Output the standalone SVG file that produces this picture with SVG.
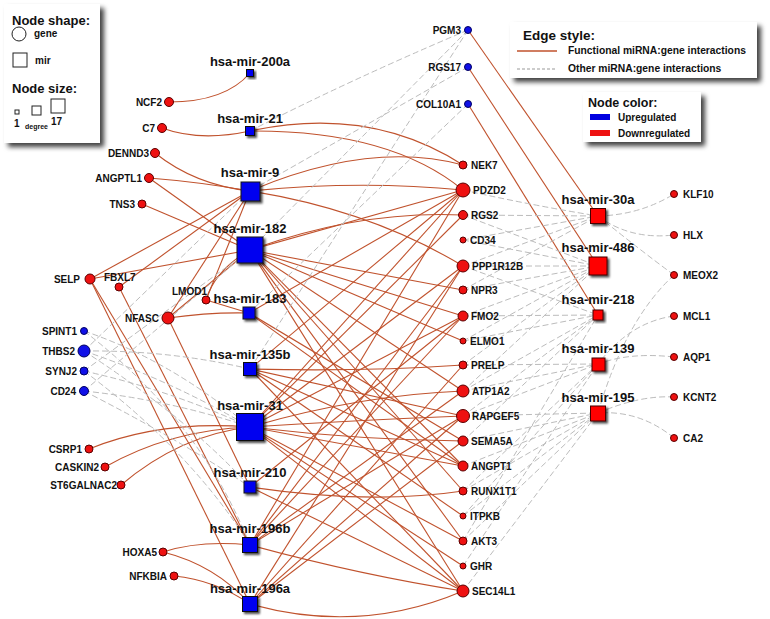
<svg xmlns="http://www.w3.org/2000/svg" width="770" height="619" viewBox="0 0 770 619">
<defs>
<filter id="bs" x="-10%" y="-10%" width="130%" height="130%"><feDropShadow dx="4" dy="4" stdDeviation="2.5" flood-color="#000" flood-opacity="0.75"/></filter>
<filter id="ss" x="-30%" y="-30%" width="170%" height="170%"><feDropShadow dx="2" dy="2" stdDeviation="0.8" flood-color="#000" flood-opacity="0.7"/></filter>
<style>
text{font-family:"Liberation Sans",Arial,sans-serif;font-weight:bold;fill:#111}
.gl{font-size:10px}
.ml{font-size:13px;text-anchor:middle}
.e{text-anchor:end}
.f{fill:none;stroke:#c0522d;stroke-width:1.1}
.o{fill:none;stroke:#bcbcbc;stroke-width:1;stroke-dasharray:6 3}
.rg{fill:#ee1111;stroke:#5a0000;stroke-width:1}
.bg{fill:#1010e8;stroke:#000060;stroke-width:1}
.bm{fill:#0000f0;stroke:#111;stroke-width:1;filter:url(#ss)}
.rm{fill:#ff0000;stroke:#400;stroke-width:1;filter:url(#ss)}
.lb{fill:#fff;filter:url(#bs)}
</style>
</defs>
<rect width="770" height="619" fill="#fff"/>

<g id="connectors">
<!-- functional, left -->
<path class="f" d="M169,102 Q225,102 250,73"/>
<path class="f" d="M162,128 Q200,142 250,131"/>
<path class="f" d="M155,153 Q195,185 250,191"/>
<path class="f" d="M149,178 Q200,182 250,191"/>
<path class="f" d="M149,178 L250,250"/>
<path class="f" d="M142,204 L250,250"/>
<path class="f" d="M90,279 L250,191"/>
<path class="f" d="M90,279 L250,250"/>
<path class="f" d="M119,287 L250,191"/>
<path class="f" d="M168,318 L250,191"/>
<path class="f" d="M168,318 L250,250"/>
<path class="f" d="M168,318 Q210,312 249,313"/>
<path class="f" d="M206,300 L250,191"/>
<path class="f" d="M206,300 Q215,270 250,250"/>
<path class="f" d="M206,300 L249,313"/>
<path class="f" d="M90,279 L250,545"/>
<path class="f" d="M90,279 L250,604"/>
<path class="f" d="M119,287 L250,545"/>
<path class="f" d="M168,318 L250,487"/>
<path class="f" d="M89,449 Q160,420 250,427"/>
<path class="f" d="M105,467 Q170,430 250,427"/>
<path class="f" d="M121,485 Q180,435 250,427"/>
<path class="f" d="M163,552 Q200,540 250,545"/>
<path class="f" d="M163,552 Q215,565 250,604"/>
<path class="f" d="M174,576 Q215,580 250,604"/>
<!-- functional, middle -->
<path class="f" d="M250,131 Q370,105 463,165"/>
<path class="f" d="M250,131 Q390,130 463,190"/>
<path class="f" d="M250,191 Q370,140 463,165"/>
<path class="f" d="M250,191 Q360,180 463,190"/>
<path class="f" d="M250,191 Q370,210 463,266"/>
<path class="f" d="M250,250 Q360,210 463,215"/>
<path class="f" d="M250,250 L463,190"/>
<path class="f" d="M250,250 L463,290"/>
<path class="f" d="M250,250 L463,316"/>
<path class="f" d="M250,250 L463,341"/>
<path class="f" d="M250,250 L463,391"/>
<path class="f" d="M250,250 L463,466"/>
<path class="f" d="M250,250 L463,491"/>
<path class="f" d="M250,250 L463,541"/>
<path class="f" d="M250,250 L463,591"/>
<path class="f" d="M249,313 L463,190"/>
<path class="f" d="M249,313 L463,441"/>
<path class="f" d="M249,313 L463,466"/>
<path class="f" d="M250,369 Q360,372 463,365"/>
<path class="f" d="M250,369 L463,416"/>
<path class="f" d="M250,369 L463,466"/>
<path class="f" d="M250,369 L463,516"/>
<path class="f" d="M250,369 L463,190"/>
<path class="f" d="M250,369 L463,591"/>
<path class="f" d="M250,427 L463,190"/>
<path class="f" d="M250,427 L463,215"/>
<path class="f" d="M250,427 L463,266"/>
<path class="f" d="M250,427 L463,316"/>
<path class="f" d="M250,427 Q360,395 463,391"/>
<path class="f" d="M250,427 Q360,420 463,416"/>
<path class="f" d="M250,427 Q360,440 463,441"/>
<path class="f" d="M250,427 L463,466"/>
<path class="f" d="M250,427 L463,541"/>
<path class="f" d="M250,427 L463,566"/>
<path class="f" d="M250,427 L463,591"/>
<path class="f" d="M250,487 Q370,505 463,491"/>
<path class="f" d="M250,487 L463,591"/>
<path class="f" d="M250,487 L463,316"/>
<path class="f" d="M250,545 L463,190"/>
<path class="f" d="M250,545 L463,266"/>
<path class="f" d="M250,545 L463,316"/>
<path class="f" d="M250,545 L463,391"/>
<path class="f" d="M250,545 L463,416"/>
<path class="f" d="M250,545 Q360,575 463,591"/>
<path class="f" d="M250,604 L463,266"/>
<path class="f" d="M250,604 L463,365"/>
<path class="f" d="M250,604 L463,416"/>
<path class="f" d="M250,604 L463,441"/>
<path class="f" d="M250,604 Q360,635 463,591"/>
<!-- functional, right -->
<path class="f" d="M468,30 L598,216"/>
<path class="f" d="M468,67 L598,266"/>
<path class="f" d="M468,104 L598,315"/>
<!-- other, left -->
<path class="o" d="M84,331 Q170,360 250,427"/>
<path class="o" d="M84,331 Q200,420 250,545"/>
<path class="o" d="M84,351 Q170,350 250,369"/>
<path class="o" d="M84,351 Q170,380 250,427"/>
<path class="o" d="M84,351 Q190,420 250,487"/>
<path class="o" d="M84,371 Q170,390 250,427"/>
<path class="o" d="M84,371 Q190,450 250,545"/>
<path class="o" d="M84,391 Q170,400 250,427"/>
<path class="o" d="M84,391 Q180,440 250,487"/>
<path class="o" d="M84,351 L250,191"/>
<path class="o" d="M84,371 L250,250"/>
<path class="o" d="M84,391 L250,250"/>
<!-- other, top -->
<path class="o" d="M468,30 Q350,80 250,131"/>
<path class="o" d="M468,30 L250,250"/>
<path class="o" d="M468,30 L250,369"/>
<path class="o" d="M468,67 L250,191"/>
<path class="o" d="M468,104 L249,313"/>
<!-- other, right -->
<path class="o" d="M463,190 Q530,205 598,216"/>
<path class="o" d="M463,215 L598,216"/>
<path class="o" d="M463,240 L598,216"/>
<path class="o" d="M463,266 L598,216"/>
<path class="o" d="M463,290 L598,216"/>
<path class="o" d="M463,215 L598,266"/>
<path class="o" d="M463,240 L598,266"/>
<path class="o" d="M463,266 L598,266"/>
<path class="o" d="M463,290 L598,266"/>
<path class="o" d="M463,316 L598,266"/>
<path class="o" d="M463,341 L598,266"/>
<path class="o" d="M463,365 L598,266"/>
<path class="o" d="M463,391 L598,266"/>
<path class="o" d="M463,266 L598,315"/>
<path class="o" d="M463,316 L598,315"/>
<path class="o" d="M463,341 L598,315"/>
<path class="o" d="M463,391 L598,315"/>
<path class="o" d="M463,416 L598,315"/>
<path class="o" d="M463,441 L598,315"/>
<path class="o" d="M463,541 L598,315"/>
<path class="o" d="M463,365 L598,364"/>
<path class="o" d="M463,391 L598,364"/>
<path class="o" d="M463,416 L598,364"/>
<path class="o" d="M463,491 L598,364"/>
<path class="o" d="M463,516 L598,364"/>
<path class="o" d="M463,566 L598,364"/>
<path class="o" d="M463,416 L598,413"/>
<path class="o" d="M463,441 L598,413"/>
<path class="o" d="M463,466 L598,413"/>
<path class="o" d="M463,491 L598,413"/>
<path class="o" d="M463,516 L598,413"/>
<path class="o" d="M463,541 L598,413"/>
<path class="o" d="M463,591 L598,413"/>
<path class="o" d="M598,216 Q640,215 674,194"/>
<path class="o" d="M598,216 Q630,240 674,235"/>
<path class="o" d="M598,216 Q640,250 674,275"/>
<path class="o" d="M674,275 Q625,320 598,413"/>
<path class="o" d="M674,316 Q630,322 598,364"/>
<path class="o" d="M674,357 Q630,352 598,364"/>
<path class="o" d="M674,397 Q640,395 598,413"/>
<path class="o" d="M674,438 Q640,410 598,413"/>
</g>

<g id="legend-shape">
<rect class="lb" x="4" y="4" width="96" height="139"/>
<text x="12" y="25" style="font-size:13px">Node shape:</text>
<circle cx="19" cy="34" r="7" fill="#fff" stroke="#222"/>
<text x="34" y="37" style="font-size:10px">gene</text>
<rect x="13" y="53" width="14" height="14" fill="#fff" stroke="#222"/>
<text x="35" y="64" style="font-size:10px">mir</text>
<text x="12" y="93" style="font-size:13px">Node size:</text>
<rect x="15" y="110" width="4" height="4" fill="#fff" stroke="#222"/>
<rect x="32" y="106" width="9" height="9" fill="#fff" stroke="#222"/>
<rect x="51" y="99" width="14" height="14" fill="#fff" stroke="#222"/>
<text x="14" y="127" style="font-size:10px">1</text>
<text x="25" y="129" style="font-size:7px">degree</text>
<text x="51" y="125" style="font-size:10px">17</text>
</g>

<g id="legend-edge">
<rect class="lb" x="510" y="22" width="247" height="56"/>
<text x="523" y="40" style="font-size:13.5px">Edge style:</text>
<line x1="517" y1="51" x2="557" y2="51" stroke="#c0522d" stroke-width="1.5"/>
<text x="568" y="54" style="font-size:10.3px">Functional miRNA:gene interactions</text>
<line x1="517" y1="69" x2="557" y2="69" stroke="#999" stroke-width="1" stroke-dasharray="3 2"/>
<text x="568" y="72" style="font-size:10.3px">Other miRNA:gene interactions</text>
</g>

<g id="legend-color">
<rect class="lb" x="583" y="92" width="118" height="50"/>
<text x="588" y="107" style="font-size:12.5px">Node color:</text>
<rect x="590" y="114" width="20" height="6" fill="#0000e0"/>
<text x="618" y="121" style="font-size:10px">Upregulated</text>
<rect x="590" y="130" width="20" height="6" fill="#ee1111"/>
<text x="618" y="137" style="font-size:10px">Downregulated</text>
</g>

<!-- left genes -->
<g id="NCF2"><circle class="rg" cx="169" cy="102" r="4.5"/><text class="gl e" x="162" y="106">NCF2</text></g>
<g id="C7"><circle class="rg" cx="162" cy="128" r="4.5"/><text class="gl e" x="155" y="132">C7</text></g>
<g id="DENND3"><circle class="rg" cx="155" cy="153" r="4.5"/><text class="gl e" x="149" y="157">DENND3</text></g>
<g id="ANGPTL1"><circle class="rg" cx="149" cy="178" r="4.5"/><text class="gl e" x="142" y="182">ANGPTL1</text></g>
<g id="TNS3"><circle class="rg" cx="142" cy="204" r="4"/><text class="gl e" x="135" y="208">TNS3</text></g>
<g id="SELP"><circle class="rg" cx="90" cy="279" r="5"/><text class="gl e" x="80" y="283">SELP</text></g>
<g id="FBXL7"><circle class="rg" cx="119" cy="287" r="4"/><text class="gl" x="104" y="281">FBXL7</text></g>
<g id="LMOD1"><circle class="rg" cx="206" cy="300" r="4"/><text class="gl" x="172" y="295">LMOD1</text></g>
<g id="NFASC"><circle class="rg" cx="168" cy="318" r="6"/><text class="gl e" x="159" y="322">NFASC</text></g>
<g id="SPINT1"><circle class="bg" cx="84" cy="331" r="3.5"/><text class="gl e" x="77" y="335">SPINT1</text></g>
<g id="THBS2"><circle class="bg" cx="84" cy="351" r="6"/><text class="gl e" x="75" y="355">THBS2</text></g>
<g id="SYNJ2"><circle class="bg" cx="84" cy="371" r="4"/><text class="gl e" x="77" y="375">SYNJ2</text></g>
<g id="CD24"><circle class="bg" cx="84" cy="391" r="4.5"/><text class="gl e" x="76" y="395">CD24</text></g>
<g id="CSRP1"><circle class="rg" cx="89" cy="449" r="4"/><text class="gl e" x="82" y="453">CSRP1</text></g>
<g id="CASKIN2"><circle class="rg" cx="105" cy="467" r="4"/><text class="gl e" x="99" y="471">CASKIN2</text></g>
<g id="ST6GALNAC2"><circle class="rg" cx="121" cy="485" r="4"/><text class="gl e" x="117" y="489">ST6GALNAC2</text></g>
<g id="HOXA5"><circle class="rg" cx="163" cy="552" r="4"/><text class="gl e" x="157" y="556">HOXA5</text></g>
<g id="NFKBIA"><circle class="rg" cx="174" cy="576" r="4"/><text class="gl e" x="167" y="580">NFKBIA</text></g>

<!-- blue mirs -->
<g id="hsa-mir-200a"><rect class="bm" x="246.5" y="69.5" width="7" height="7"/><text class="ml" x="250" y="66">hsa-mir-200a</text></g>
<g id="hsa-mir-21"><rect class="bm" x="245.5" y="126.5" width="9" height="9"/><text class="ml" x="250" y="123">hsa-mir-21</text></g>
<g id="hsa-mir-9"><rect class="bm" x="241" y="182" width="19" height="19"/><text class="ml" x="250" y="177">hsa-mir-9</text></g>
<g id="hsa-mir-182"><rect class="bm" x="237" y="237" width="26" height="26"/><text class="ml" x="250" y="233">hsa-mir-182</text></g>
<g id="hsa-mir-183"><rect class="bm" x="243" y="307" width="12" height="12"/><text class="ml" x="250" y="303">hsa-mir-183</text></g>
<g id="hsa-mir-135b"><rect class="bm" x="243.5" y="362.5" width="13" height="13"/><text class="ml" x="250" y="359">hsa-mir-135b</text></g>
<g id="hsa-mir-31"><rect class="bm" x="236.5" y="413.5" width="27" height="27"/><text class="ml" x="250" y="410">hsa-mir-31</text></g>
<g id="hsa-mir-210"><rect class="bm" x="244" y="481" width="12" height="12"/><text class="ml" x="250" y="477">hsa-mir-210</text></g>
<g id="hsa-mir-196b"><rect class="bm" x="242.5" y="537.5" width="15" height="15"/><text class="ml" x="250" y="533">hsa-mir-196b</text></g>
<g id="hsa-mir-196a"><rect class="bm" x="242.5" y="596.5" width="15" height="15"/><text class="ml" x="250" y="593">hsa-mir-196a</text></g>

<!-- middle genes -->
<g id="PGM3"><circle class="bg" cx="468" cy="30" r="3.5"/><text class="gl e" x="461" y="34">PGM3</text></g>
<g id="RGS17"><circle class="bg" cx="468" cy="67" r="3.5"/><text class="gl e" x="461" y="71">RGS17</text></g>
<g id="COL10A1"><circle class="bg" cx="468" cy="104" r="3.5"/><text class="gl e" x="461" y="108">COL10A1</text></g>
<g id="NEK7"><circle class="rg" cx="463" cy="165" r="4"/><text class="gl" x="471" y="169">NEK7</text></g>
<g id="PDZD2"><circle class="rg" cx="463" cy="190" r="7"/><text class="gl" x="473" y="194">PDZD2</text></g>
<g id="RGS2"><circle class="rg" cx="463" cy="215" r="4.5"/><text class="gl" x="471" y="219">RGS2</text></g>
<g id="CD34"><circle class="rg" cx="463" cy="240" r="3"/><text class="gl" x="470" y="244">CD34</text></g>
<g id="PPP1R12B"><circle class="rg" cx="463" cy="266" r="6"/><text class="gl" x="472" y="270">PPP1R12B</text></g>
<g id="NPR3"><circle class="rg" cx="463" cy="290" r="4"/><text class="gl" x="471" y="294">NPR3</text></g>
<g id="FMO2"><circle class="rg" cx="463" cy="316" r="5"/><text class="gl" x="471" y="320">FMO2</text></g>
<g id="ELMO1"><circle class="rg" cx="463" cy="341" r="3"/><text class="gl" x="470" y="345">ELMO1</text></g>
<g id="PRELP"><circle class="rg" cx="463" cy="365" r="4"/><text class="gl" x="471" y="369">PRELP</text></g>
<g id="ATP1A2"><circle class="rg" cx="463" cy="391" r="6"/><text class="gl" x="472" y="395">ATP1A2</text></g>
<g id="RAPGEF5"><circle class="rg" cx="463" cy="416" r="6.5"/><text class="gl" x="472" y="420">RAPGEF5</text></g>
<g id="SEMA5A"><circle class="rg" cx="463" cy="441" r="5"/><text class="gl" x="471" y="445">SEMA5A</text></g>
<g id="ANGPT1"><circle class="rg" cx="463" cy="466" r="5"/><text class="gl" x="471" y="470">ANGPT1</text></g>
<g id="RUNX1T1"><circle class="rg" cx="463" cy="491" r="4"/><text class="gl" x="471" y="495">RUNX1T1</text></g>
<g id="ITPKB"><circle class="rg" cx="463" cy="516" r="3"/><text class="gl" x="470" y="520">ITPKB</text></g>
<g id="AKT3"><circle class="rg" cx="463" cy="541" r="4"/><text class="gl" x="471" y="545">AKT3</text></g>
<g id="GHR"><circle class="rg" cx="463" cy="566" r="3"/><text class="gl" x="470" y="570">GHR</text></g>
<g id="SEC14L1"><circle class="rg" cx="463" cy="591" r="6"/><text class="gl" x="472" y="595">SEC14L1</text></g>

<!-- red mirs -->
<g id="hsa-mir-30a"><rect class="rm" x="590.5" y="208.5" width="15" height="15"/><text class="ml" x="598" y="204">hsa-mir-30a</text></g>
<g id="hsa-mir-486"><rect class="rm" x="589" y="257" width="18" height="18"/><text class="ml" x="598" y="252">hsa-mir-486</text></g>
<g id="hsa-mir-218"><rect class="rm" x="593" y="310" width="10" height="10"/><text class="ml" x="598" y="304">hsa-mir-218</text></g>
<g id="hsa-mir-139"><rect class="rm" x="592" y="358" width="13" height="13"/><text class="ml" x="598" y="353">hsa-mir-139</text></g>
<g id="hsa-mir-195"><rect class="rm" x="590.5" y="406" width="15" height="15"/><text class="ml" x="598" y="402">hsa-mir-195</text></g>

<!-- right genes -->
<g id="KLF10"><circle class="rg" cx="674" cy="194" r="3.5"/><text class="gl" x="683" y="198">KLF10</text></g>
<g id="HLX"><circle class="rg" cx="674" cy="235" r="3.5"/><text class="gl" x="683" y="239">HLX</text></g>
<g id="MEOX2"><circle class="rg" cx="674" cy="275" r="3.5"/><text class="gl" x="683" y="279">MEOX2</text></g>
<g id="MCL1"><circle class="rg" cx="674" cy="316" r="3.5"/><text class="gl" x="683" y="320">MCL1</text></g>
<g id="AQP1"><circle class="rg" cx="674" cy="357" r="3.5"/><text class="gl" x="683" y="361">AQP1</text></g>
<g id="KCNT2"><circle class="rg" cx="674" cy="397" r="3.5"/><text class="gl" x="683" y="401">KCNT2</text></g>
<g id="CA2"><circle class="rg" cx="674" cy="438" r="3.5"/><text class="gl" x="683" y="442">CA2</text></g>
</svg>
